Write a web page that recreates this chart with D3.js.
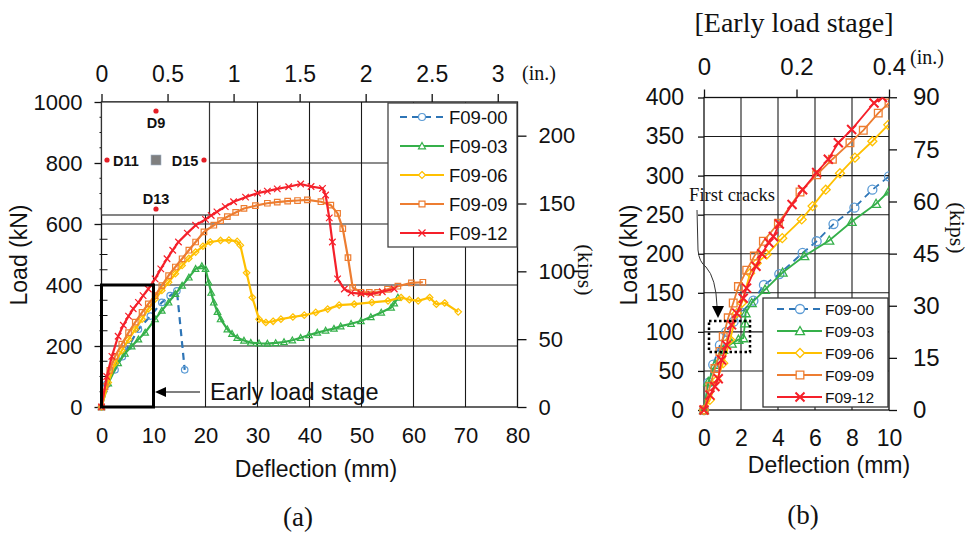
<!DOCTYPE html>
<html><head><meta charset="utf-8">
<script src="https://cdn.jsdelivr.net/npm/d3@7"></script>
<style>
body{margin:0;background:#fff;}
svg{display:block;}
</style></head><body>
<svg id="c" width="971" height="535"></svg>
<script>
// ---------- series meta ----------
const seriesNames = ["F09-00","F09-03","F09-06","F09-09","F09-12"];
const lineColors = ["#2E75B6","#35B04A","#FFC000","#ED7D31","#F5202A"];
const markerColors = ["#5B9BD5","#35B04A","#FFC000","#ED7D31","#F5202A"];
const markerShapes = ["circle","triangle","diamond","square","cross"];

// ---------- panel (a): [deflection mm, load kN] ----------
const a00 = [[0,0],[1.0,75],[2.6,122],[4.0,165],[5.2,199],[7.1,255],[9.4,298],[11.6,343],[13.2,365],[14.5,381],[16.0,122]];
const a03 = [[0,0],[1.3,78],[3.2,144],[4.5,175],[5.8,199],[7.1,222],[8.4,244],[10.3,288],[11.6,316],[12.9,343],[14.2,371],[15.5,398],[16.8,425],[18.1,453],[19.3,462],[20.0,453],[20.6,409],[21.1,375],[21.6,343],[22.3,312],[22.9,288],[24.2,255],[25.1,240],[26.1,227],[27.4,218],[28.7,211],[30.3,209],[31.9,208],[33.5,210],[35.1,213],[36.7,219],[38.3,227],[39.9,236],[41.5,244],[43.1,251],[44.7,257],[46.0,265],[48.0,273],[49.9,282],[51.8,295],[53.8,310],[55.7,326],[56.3,340],[57.0,359]];
const a06 = [[0,0],[1.3,80],[2.6,144],[3.9,185],[5.2,221],[6.5,255],[7.8,288],[9.0,322],[10.3,354],[11.6,382],[12.9,409],[14.2,437],[15.5,464],[16.8,487],[18.1,508],[19.5,527],[20.9,541],[22.9,546],[24.5,547],[26.1,543],[26.7,530],[27.9,440],[29.0,359],[30.3,288],[31.6,277],[33.0,281],[34.5,288],[36.8,295],[39.0,301],[41.2,310],[43.5,321],[45.7,334],[48.6,337],[52.0,343],[55.1,348],[57.6,359],[59.2,352],[60.9,348],[63.1,359],[64.4,337],[66.0,341],[68.6,312]];
const a09 = [[0,0],[0.7,67],[1.6,120],[2.6,166],[3.9,206],[5.2,244],[6.5,278],[7.8,310],[9.0,338],[10.3,365],[11.6,398],[12.9,431],[14.2,459],[15.5,486],[16.8,514],[18.1,541],[19.7,574],[21.6,596],[22.9,611],[24.2,624],[25.8,638],[27.4,651],[29.6,660],[31.9,668],[33.8,672],[35.8,675],[37.7,677],[39.6,679],[42.2,673],[44.1,662],[45.4,635],[46.4,585],[47.4,490],[48.3,392],[49.9,376],[51.5,376],[53.1,376],[55.0,386],[57.0,396],[59.6,407],[61.8,409]];
const a12 = [[0,0],[1.0,100],[2.0,166],[3.2,232],[4.2,268],[5.2,298],[6.1,322],[7.1,343],[8.0,365],[9.0,387],[10.3,420],[11.4,453],[12.6,486],[13.7,514],[14.8,541],[16.5,570],[18.1,596],[20.0,615],[21.1,628],[22.2,640],[23.8,657],[25.4,673],[27.7,688],[30.0,701],[31.9,708],[33.8,715],[36.0,722],[38.3,731],[40.3,723],[42.5,717],[43.1,695],[43.8,620],[44.4,541],[45.4,420],[46.7,387],[48.0,374],[49.9,372],[51.8,370],[54.0,378],[56.3,387]];
const aData = [a00,a03,a06,a09,a12];

// ---------- panel (b): early load stage ----------
const b00 = [[0,0],[0.25,35],[0.5,58],[0.86,83],[1.2,100],[1.6,113],[2.0,125],[2.67,140],[3.24,160],[4.07,174],[5.33,201],[6.09,216],[7.0,238],[8.13,259],[9.1,282],[10.0,299]];
const b03 = [[0,0],[0.23,36],[0.6,58],[1.04,77],[1.5,85],[1.86,90],[2.12,92],[2.22,111],[2.25,124],[2.58,137],[3.3,154],[4.25,176],[5.42,197],[6.77,217],[7.98,241],[9.3,264],[10.0,280]];
const b06 = [[0,0],[0.32,13],[0.68,38],[1.04,60],[1.41,90],[1.77,124],[2.04,137],[2.49,175],[2.85,188],[3.39,199],[4.23,220],[5.28,244],[5.87,261],[6.58,282],[7.35,303],[8.16,323],[9.1,344],[9.96,365]];
const b09 = [[0,0],[0.32,30],[0.59,53],[0.86,75],[1.04,94],[1.31,118],[1.58,137],[1.86,158],[2.31,179],[2.72,197],[3.21,216],[4.02,239],[5.19,279],[6.09,301],[6.94,321],[7.89,342],[8.61,358],[9.42,380],[10.0,393]];
const b12 = [[0,0],[0.32,19],[0.59,30],[0.77,40],[0.95,64],[1.22,83],[1.49,109],[1.77,124],[2.12,143],[2.3,156],[2.81,184],[3.12,200],[3.51,214],[3.75,222],[4.07,238],[4.76,263],[5.33,282],[6.09,304],[6.72,321],[7.26,342],[7.98,359],[9.19,393],[9.65,400]];
const bData = [b00,b03,b06,b09,b12];

// ---------- ticks ----------
const aXTicks = [0,10,20,30,40,50,60,70,80];
const aYTicks = [0,200,400,600,800,1000];
const aYMinor = [50,100,150,250,300,350,450,500,550,650,700,750,850,900,950];
const aInTicks = [0,0.5,1,1.5,2,2.5,3];
const aKipTicks = [0,50,100,150,200];
const bXTicks = [0,2,4,6,8,10];
const bYTicks = [0,50,100,150,200,250,300,350,400];
const bInTicks = [0,0.2,0.4];
const bKipTicks = [0,15,30,45,60,75,90];

const KN_PER_KIP = 4.448, MM_PER_IN = 25.4;
const SANS = "Liberation Sans, Arial, sans-serif";
const SERIF = "Liberation Serif, Times New Roman, serif";

const svg = d3.select("#c");

// ---------- marker helper ----------
function marker(g, shape, x, y, s, color, sw, fill) {
  const h = s/2;
  let p;
  if (shape === "circle") {
    g.append("circle").attr("cx",x).attr("cy",y).attr("r",h)
      .attr("fill",fill||"none").attr("stroke",color).attr("stroke-width",sw);
    return;
  }
  if (shape === "triangle") p = `M${x},${y-h}L${x+h},${y+h*0.8}L${x-h},${y+h*0.8}Z`;
  if (shape === "diamond") p = `M${x},${y-h}L${x+h},${y}L${x},${y+h}L${x-h},${y}Z`;
  if (shape === "square") p = `M${x-h*0.85},${y-h*0.85}h${s*0.85}v${s*0.85}h${-s*0.85}Z`;
  if (shape === "cross") p = `M${x-h},${y-h}L${x+h},${y+h}M${x+h},${y-h}L${x-h},${y+h}`;
  g.append("path").attr("d",p).attr("fill",fill||"none").attr("stroke",color).attr("stroke-width",sw);
}

// ================= PANEL (a) =================
const xa = d3.scaleLinear([0,80],[101.5,517.5]);
const ya = d3.scaleLinear([0,1000],[407,102]);
const xaIn = d3.scaleLinear([0,3],[xa(0), xa(3*MM_PER_IN)]);
const yaKip = d3.scaleLinear([0,200],[ya(0), ya(200*KN_PER_KIP)]);

const ga = svg.append("g");
// grid
ga.append("g").selectAll("line").data(aXTicks.slice(1,-1)).join("line")
  .attr("x1",d=>xa(d)).attr("x2",d=>xa(d)).attr("y1",ya(1000)).attr("y2",ya(0))
  .attr("stroke","#1a1a1a").attr("stroke-width",1.1);
ga.append("g").selectAll("line").data(aYTicks.slice(1,-1)).join("line")
  .attr("x1",xa(0)).attr("x2",xa(80)).attr("y1",d=>ya(d)).attr("y2",d=>ya(d))
  .attr("stroke","#1a1a1a").attr("stroke-width",1.1);
// frame
ga.append("rect").attr("x",xa(0)).attr("y",ya(1000)).attr("width",xa(80)-xa(0)).attr("height",ya(0)-ya(1000))
  .attr("fill","none").attr("stroke","#111").attr("stroke-width",1.3);

// axes
function styleAxis(sel, size) {
  sel.select(".domain").remove();
  sel.selectAll(".tick line").attr("stroke","#111").attr("stroke-width",1.3);
  sel.selectAll(".tick text").attr("fill","#111").style("font-family",SANS).style("font-size",size+"px");
}
ga.append("g").attr("transform",`translate(${xa(0)},0)`)
  .call(d3.axisLeft(ya).tickValues(aYTicks).tickSize(7).tickPadding(12).tickFormat(d3.format("d")))
  .call(s=>styleAxis(s,22));
ga.append("g").selectAll("line").data(aYMinor).join("line")
  .attr("x1",xa(0)-2).attr("x2",xa(0)+6).attr("y1",d=>ya(d)).attr("y2",d=>ya(d))
  .attr("stroke","#111").attr("stroke-width",1);
ga.append("g").attr("transform",`translate(0,${ya(0)})`)
  .call(d3.axisBottom(xa).tickValues(aXTicks).tickSize(0).tickPadding(20).tickFormat(d3.format("d")))
  .call(s=>styleAxis(s,22));
ga.append("g").attr("transform",`translate(0,${ya(1000)})`)
  .call(d3.axisTop(xaIn).tickValues(aInTicks).tickSize(8).tickPadding(12).tickFormat(d=>String(d)))
  .call(s=>styleAxis(s,23));
ga.append("g").attr("transform",`translate(${xa(80)},0)`)
  .call(d3.axisRight(yaKip).tickValues(aKipTicks).tickSize(9).tickPadding(12).tickFormat(d3.format("d")))
  .call(s=>styleAxis(s,22));

// unit labels
ga.append("text").attr("x",522).attr("y",80).text("(in.)")
  .style("font-family",SERIF).style("font-size","20px").attr("fill","#111");
ga.append("text").attr("transform","translate(578,270) rotate(90)").attr("text-anchor","middle").text("(kips)")
  .style("font-family",SERIF).style("font-size","22px").attr("fill","#111");
ga.append("text").attr("transform","translate(27,255) rotate(-90)").attr("text-anchor","middle").text("Load (kN)")
  .style("font-family",SANS).style("font-size","23px").attr("fill","#111");
ga.append("text").attr("x",316).attr("y",477).attr("text-anchor","middle").text("Deflection (mm)")
  .style("font-family",SANS).style("font-size","23px").attr("fill","#111");
ga.append("text").attr("x",298).attr("y",526).attr("text-anchor","middle").text("(a)")
  .style("font-family",SERIF).style("font-size","27px").attr("fill","#111");

// inset with gauge layout
const inset = ga.append("g");
inset.append("rect").attr("x",xa(0)).attr("y",ya(1000)).attr("width",108).attr("height",113)
  .attr("fill","#fff").attr("stroke","#333").attr("stroke-width",1.2);
const gaugeDots = [[156,111],[107,160],[204,160],[156,209]];
inset.selectAll("circle").data(gaugeDots).join("circle").attr("cx",d=>d[0]).attr("cy",d=>d[1]).attr("r",2.6).attr("fill","#E41E26");
inset.append("rect").attr("x",151).attr("y",155).attr("width",10).attr("height",10).attr("fill","#7f7f7f").attr("stroke","#9fb3c8").attr("stroke-width",0.6);
const gaugeLabels = [["D9",156,128],["D11",126,166],["D15",185,166],["D13",156,204]];
inset.selectAll("text").data(gaugeLabels).join("text").attr("x",d=>d[1]).attr("y",d=>d[2]).attr("text-anchor","middle")
  .text(d=>d[0]).style("font-family",SANS).style("font-weight","bold").style("font-size","14.5px").attr("fill","#111");

// series (a)
const lineA = d3.line().x(d=>xa(d[0])).y(d=>ya(d[1]));
aData.forEach((data,i)=>{
  const g = ga.append("g");
  g.append("path").attr("d",lineA(data)).attr("fill","none").attr("stroke",lineColors[i])
    .attr("stroke-width",2.2).attr("stroke-dasharray",i===0?"7,5":null).attr("stroke-linejoin","round");
  data.forEach(d=>marker(g, markerShapes[i], xa(d[0]), ya(d[1]), 6.5, markerColors[i], 1.2));
});

// legend (a)
const lgA = ga.append("g");
lgA.append("rect").attr("x",388).attr("y",103).attr("width",129).attr("height",144)
  .attr("fill","#fff").attr("stroke","#444").attr("stroke-width",1.3);
seriesNames.forEach((n,i)=>{
  const y = 117 + i*29;
  lgA.append("line").attr("x1",400).attr("x2",444).attr("y1",y).attr("y2",y).attr("stroke",lineColors[i])
    .attr("stroke-width",2.2).attr("stroke-dasharray",i===0?"7,5":null);
  marker(lgA, markerShapes[i], 422, y, 7, markerColors[i], 1.2, "#fff");
  lgA.append("text").attr("x",449).attr("y",y+6.5).text(n).style("font-family",SANS).style("font-size","18.5px").attr("fill","#111");
});

// early load stage box & arrow
ga.append("rect").attr("x",xa(0)).attr("y",ya(400)).attr("width",xa(10)-xa(0)).attr("height",ya(0)-ya(400))
  .attr("fill","none").attr("stroke","#000").attr("stroke-width",3);
ga.append("line").attr("x1",200).attr("x2",163).attr("y1",392).attr("y2",392).attr("stroke","#000").attr("stroke-width",1.2);
ga.append("path").attr("d","M155,392L166,387L166,397Z").attr("fill","#000");
ga.append("text").attr("x",210).attr("y",400).text("Early load stage")
  .style("font-family",SANS).style("font-size","23.5px").attr("fill","#111");

// ================= PANEL (b) =================
const xb = d3.scaleLinear([0,10],[704,889]);
const yb = d3.scaleLinear([0,400],[410,97.5]);
const xbIn = d3.scaleLinear([0,0.4],[xb(0), xb(10)]);
const ybKip = d3.scaleLinear([0,90],[yb(0), yb(90*KN_PER_KIP)]);

const gb = svg.append("g");
gb.append("g").selectAll("line").data(bXTicks.slice(1,-1)).join("line")
  .attr("x1",d=>xb(d)).attr("x2",d=>xb(d)).attr("y1",yb(400)).attr("y2",yb(0))
  .attr("stroke","#1a1a1a").attr("stroke-width",1.1);
gb.append("g").selectAll("line").data(bYTicks.slice(1,-1)).join("line")
  .attr("x1",xb(0)).attr("x2",xb(10)).attr("y1",d=>yb(d)).attr("y2",d=>yb(d))
  .attr("stroke","#1a1a1a").attr("stroke-width",1.1);
gb.append("rect").attr("x",xb(0)).attr("y",yb(400)).attr("width",xb(10)-xb(0)).attr("height",yb(0)-yb(400))
  .attr("fill","none").attr("stroke","#111").attr("stroke-width",1.3);

gb.append("g").attr("transform",`translate(${xb(0)},0)`)
  .call(d3.axisLeft(yb).tickValues(bYTicks).tickSize(6).tickPadding(14).tickFormat(d3.format("d")))
  .call(s=>styleAxis(s,23));
gb.append("g").attr("transform",`translate(0,${yb(0)})`)
  .call(d3.axisBottom(xb).tickValues(bXTicks).tickSize(0).tickPadding(20).tickFormat(d3.format("d")))
  .call(s=>styleAxis(s,23));
gb.append("g").attr("transform",`translate(0,${yb(400)})`)
  .call(d3.axisTop(xbIn).tickValues(bInTicks).tickSize(8).tickPadding(15).tickFormat(d=>String(d)))
  .call(s=>styleAxis(s,24));
gb.append("g").attr("transform",`translate(${xb(10)},0)`)
  .call(d3.axisRight(ybKip).tickValues(bKipTicks).tickSize(8).tickPadding(16).tickFormat(d3.format("d")))
  .call(s=>styleAxis(s,24));

gb.append("text").attr("x",910).attr("y",64).text("(in.)")
  .style("font-family",SERIF).style("font-size","20px").attr("fill","#111");
gb.append("text").attr("transform","translate(950,228) rotate(90)").attr("text-anchor","middle").text("(kips)")
  .style("font-family",SERIF).style("font-size","22px").attr("fill","#111");
gb.append("text").attr("transform","translate(637,255) rotate(-90)").attr("text-anchor","middle").text("Load (kN)")
  .style("font-family",SANS).style("font-size","23px").attr("fill","#111");
gb.append("text").attr("x",829).attr("y",473).attr("text-anchor","middle").text("Deflection (mm)")
  .style("font-family",SANS).style("font-size","23px").attr("fill","#111");
gb.append("text").attr("x",803).attr("y",524).attr("text-anchor","middle").text("(b)")
  .style("font-family",SERIF).style("font-size","27px").attr("fill","#111");
gb.append("text").attr("x",794).attr("y",32).attr("text-anchor","middle").text("[Early load stage]")
  .style("font-family",SERIF).style("font-size","28px").attr("fill","#111");

// clip
svg.append("clipPath").attr("id","clipB").append("rect")
  .attr("x",xb(0)-6).attr("y",yb(400)).attr("width",xb(10)-xb(0)+6).attr("height",yb(0)-yb(400)+6);
const lineB = d3.line().x(d=>xb(d[0])).y(d=>yb(d[1]));
const sb = gb.append("g").attr("clip-path","url(#clipB)");
bData.forEach((data,i)=>{
  const g = sb.append("g");
  g.append("path").attr("d",lineB(data)).attr("fill","none").attr("stroke",lineColors[i])
    .attr("stroke-width",1.8).attr("stroke-dasharray",i===0?"7,5":null);
  data.forEach(d=>marker(g, markerShapes[i], xb(d[0]), yb(d[1]), 9, markerColors[i], i===4?2:1.3));
});

// first cracks annotation
gb.append("text").attr("x",732).attr("y",201).attr("text-anchor","middle").text("First cracks")
  .style("font-family",SERIF).style("font-size","18.5px").attr("fill","#111");
gb.append("path").attr("d","M697,210 L698,250 Q699,262 706,267 Q716,278 717,306")
  .attr("fill","none").attr("stroke","#333").attr("stroke-width",1);
gb.append("path").attr("d","M718,318 L712,306 L724,306 Z").attr("fill","#000");
gb.append("rect").attr("x",709).attr("y",321).attr("width",41).attr("height",31)
  .attr("fill","none").attr("stroke","#000").attr("stroke-width",2.5).attr("stroke-dasharray","2.5,2.5");

// legend (b)
const lgB = gb.append("g");
lgB.append("rect").attr("x",763).attr("y",298).attr("width",125).attr("height",109)
  .attr("fill","#fff").attr("stroke","#333").attr("stroke-width",1.3);
seriesNames.forEach((n,i)=>{
  const y = 309 + i*22;
  lgB.append("line").attr("x1",777).attr("x2",822).attr("y1",y).attr("y2",y).attr("stroke",lineColors[i])
    .attr("stroke-width",1.8).attr("stroke-dasharray",i===0?"7,5":null);
  marker(lgB, markerShapes[i], 800, y, 9, markerColors[i], i===4?2:1.3, "#fff");
  lgB.append("text").attr("x",825).attr("y",y+5.5).text(n).style("font-family",SANS).style("font-size","15.5px").attr("fill","#111");
});
</script>
</body></html>
